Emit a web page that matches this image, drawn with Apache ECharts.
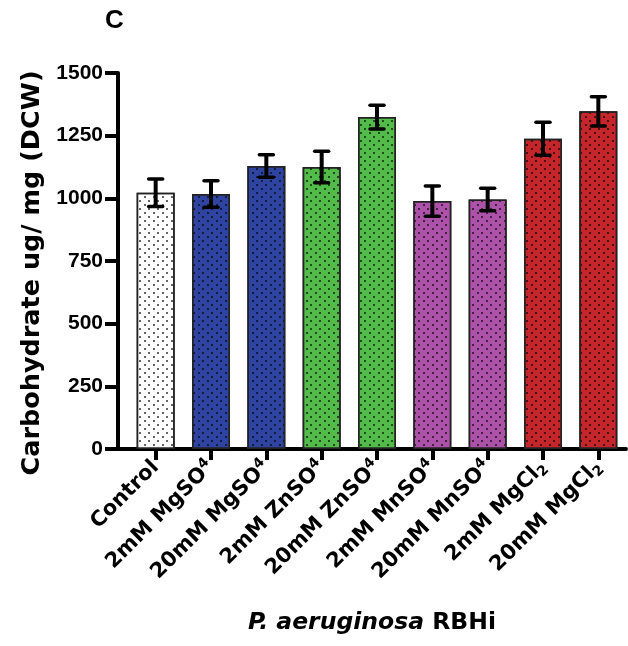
<!DOCTYPE html>
<html>
<head>
<meta charset="utf-8">
<script src="https://cdn.jsdelivr.net/npm/echarts@6/dist/echarts.min.js"></script>
<style>html,body{margin:0;padding:0;background:#fff;}#c{width:628px;height:646px;}</style>
</head>
<body>
<div id="c"></div>
<script>
// ---- data ----
var categories = ['Control', '2mM MgSO4', '20mM MgSO4', '2mM ZnSO4', '20mM ZnSO4', '2mM MnSO4', '20mM MnSO4', '2mM MgCl2', '20mM MgCl2'];
var means = [1022, 1017, 1129, 1125, 1324, 989, 995, 1238, 1347];
var errors = [55, 53, 45, 63, 47, 60, 45, 66, 58];
var barColors = ['#ffffff', '#2f44a0', '#2f44a0', '#52bb4a', '#52bb4a', '#ad52a9', '#ad52a9', '#c4262c', '#c4262c'];
var yTicks = [0, 250, 500, 750, 1000, 1250, 1500];

var chart = echarts.init(document.getElementById('c'));
var FONT = 'DejaVu Sans';
var decal = {
  symbol: 'circle',
  symbolSize: 1,
  color: 'rgba(0,0,0,0.8)',
  dashArrayX: [[2, 7], [0, 4, 2, 3]],
  dashArrayY: [2, 2]
};

function catLabel(v) {
  var m = v.match(/^(.*?)(\d)$/);
  if (v.indexOf('SO4') >= 0) return m[1] + '{s|' + m[2] + '}';
  if (v.indexOf('Cl2') >= 0) return m[1] + '{t|' + m[2] + '}';
  return v;
}

var barData = means.map(function (v, i) {
  return { value: v, itemStyle: { color: barColors[i], decal: decal } };
});
var errData = means.map(function (v, i) { return [i, v - errors[i], v + errors[i]]; });

var option = {
  animation: false,
  title: {
    text: 'C', left: 100, top: 3,
    textStyle: { fontFamily: 'Liberation Sans', fontWeight: 'bold', fontSize: 26, color: '#000' }
  },
  grid: [
    { left: 128, right: 2, top: 73, bottom: 197 },
    { left: 118, right: 2, top: 73, bottom: 197 }
  ],
  xAxis: [
    {
      type: 'category', gridIndex: 0, data: categories,
      axisLine: { show: false },
      axisTick: { show: true, alignWithLabel: true, length: 11, lineStyle: { color: '#000', width: 4 } },
      axisLabel: {
        rotate: 45, margin: 15, interval: 0, color: '#000',
        fontFamily: FONT, fontWeight: 'bold', fontSize: 21,
        formatter: catLabel,
        rich: {
          s: { fontFamily: FONT, fontWeight: 'bold', fontSize: 14, color: '#000', verticalAlign: 'top', lineHeight: 25 },
          t: { fontFamily: FONT, fontWeight: 'bold', fontSize: 14, color: '#000', verticalAlign: 'bottom', lineHeight: 25 }
        }
      },
      splitLine: { show: false }
    },
    {
      type: 'value', gridIndex: 1, min: 0, max: 1,
      axisLine: { show: true, lineStyle: { color: '#000', width: 4 } },
      axisTick: { show: false }, axisLabel: { show: false }, splitLine: { show: false },
      name: '{i|P. aeruginosa }{b|RBHi}', nameLocation: 'middle', nameGap: 162,
      nameTextStyle: {
        rich: {
          i: { fontFamily: FONT, fontWeight: 'bold', fontStyle: 'italic', fontSize: 23.5, color: '#000' },
          b: { fontFamily: FONT, fontWeight: 'bold', fontSize: 23.5, color: '#000' }
        }
      }
    }
  ],
  yAxis: [
    { type: 'value', gridIndex: 0, min: 0, max: 1500, interval: 250, show: false },
    {
      type: 'value', gridIndex: 1, min: 0, max: 1500, interval: 250,
      axisLine: { show: true, lineStyle: { color: '#000', width: 4 } },
      axisTick: { show: true, inside: false, length: 13, lineStyle: { color: '#000', width: 4 } },
      axisLabel: {
        margin: 15, color: '#000', fontFamily: 'Liberation Sans', fontWeight: 'bold', fontSize: 21,
        formatter: function (v) { return String(v); }
      },
      splitLine: { show: false },
      name: 'Carbohydrate ug/ mg (DCW)', nameLocation: 'middle', nameGap: 65,
      nameTextStyle: { fontFamily: FONT, fontWeight: 'bold', fontSize: 25.5, color: '#000', padding: [0, 24, 0, 0] }
    }
  ],
  series: [
    {
      type: 'bar', xAxisIndex: 0, yAxisIndex: 0, data: barData, barWidth: 38,
      itemStyle: { borderColor: '#222', borderWidth: 1.5 }
    },
    {
      type: 'custom', xAxisIndex: 0, yAxisIndex: 0, data: errData,
      encode: { x: 0, y: [1, 2] }, z: 10,
      renderItem: function (params, api) {
        var i = api.value(0);
        var lo = api.coord([i, api.value(1)]);
        var hi = api.coord([i, api.value(2)]);
        var hw = 7;
        var st = { stroke: '#000', lineWidth: 4 };
        var cs = { stroke: '#000', lineWidth: 3.5, lineCap: 'round' };
        return {
          type: 'group',
          children: [
            { type: 'line', shape: { x1: hi[0], y1: hi[1], x2: lo[0], y2: lo[1] }, style: st },
            { type: 'line', shape: { x1: hi[0] - hw, y1: hi[1], x2: hi[0] + hw, y2: hi[1] }, style: cs },
            { type: 'line', shape: { x1: lo[0] - hw, y1: lo[1], x2: lo[0] + hw, y2: lo[1] }, style: cs }
          ]
        };
      }
    }
  ]
};
chart.setOption(option);
</script>
</body>
</html>
